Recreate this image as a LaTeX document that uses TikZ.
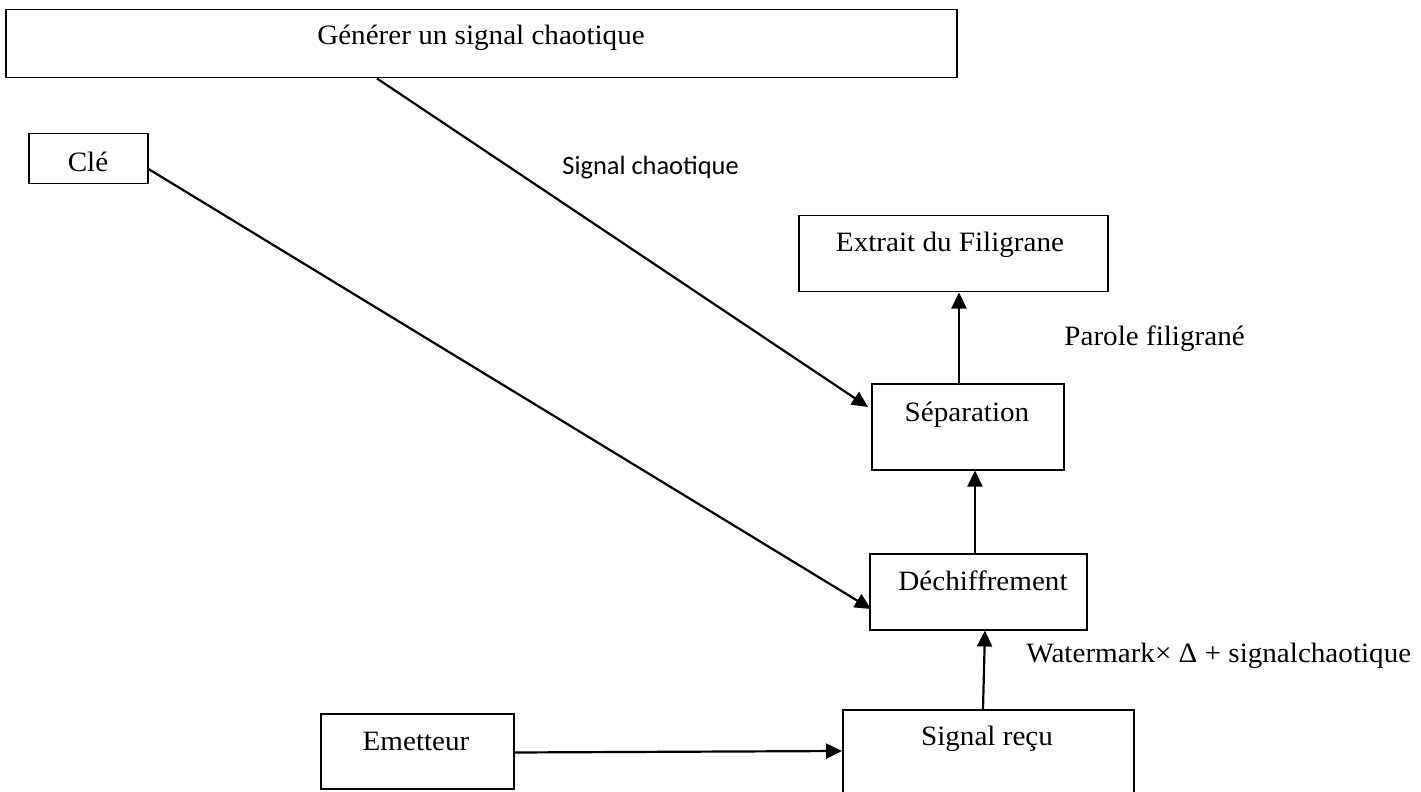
\documentclass[tikz,border=0pt]{standalone}
\usepackage{fontspec}
\usetikzlibrary{arrows.meta,calc}
\newfontfamily\boxfont[FakeStretch=1.04]{Liberation Serif}
\newfontfamily\lblfont{Carlito}
\begin{document}
\begin{tikzpicture}[x=0.5pt,y=-0.5pt,
  blk/.style={draw,line width=0.75pt,inner sep=0pt,anchor=north west},
  blktext/.style={anchor=base,inner sep=0pt,font=\boxfont\fontsize{14pt}{16pt}\selectfont},
  sanslbl/.style={anchor=base west,inner sep=0pt,font=\lblfont\fontsize{13.2pt}{16pt}\selectfont},
  seriflbl/.style={anchor=base west,inner sep=0pt,font=\boxfont\fontsize{14pt}{16pt}\selectfont},
  arr/.style={line width=1.1pt,-{Triangle[length=8pt,width=7.5pt]}}]
\clip (0,0) rectangle (1421,792);
\fill[white] (0,0) rectangle (1421,792);

% blocks
\node[blk,minimum width=475.5pt,minimum height=34pt] (gen) at (5,9) {};
\node[blk,minimum width=59.5pt,minimum height=25pt] (cle) at (28,133) {};
\node[blk,minimum width=154.5pt,minimum height=38pt] (ext) at (798,215) {};
\node[blk,minimum width=96pt,minimum height=43pt] (sep) at (871,383) {};
\node[blk,minimum width=108.5pt,minimum height=38pt] (dech) at (869,553) {};
\node[blk,minimum width=145.5pt,minimum height=50pt] (sig) at (842,709) {};
\node[blk,minimum width=96.5pt,minimum height=37.5pt] (emet) at (320,713) {};

% block captions
\node[blktext] (genT) at (481,45) {Générer un signal chaotique};
\node[blktext] (cleT) at (88,172) {Clé};
\node[blktext] (extT) at (950,252) {Extrait du Filigrane};
\node[blktext] (sepT) at (967,421) {Séparation};
\node[blktext] (dechT) at (983,590) {Déchiffrement};
\node[blktext] (sigT) at (987,745) {Signal reçu};
\node[blktext] (emetT) at (416,750) {Emetteur};

% connector labels
\node[sanslbl] (lblSig) at (562,175) {Signal chaotique};
\node[seriflbl] (lblPar) at (1064,345) {Parole filigrané};
\node[seriflbl] (lblWat) at (1026,662) {Watermark× Δ + signalchaotique};

% connectors
\draw[arr] ($(gen.south west)+(372,0)$) -- ($(sep.north west)+(-3,24)$);
\draw[arr] ($(cle.north east)+(0,36)$) -- ($(dech.north west)+(2,56)$);
\draw[arr] ($(dech.north west)+(106,0)$) -- ($(sep.south west)+(104,0)$);
\draw[arr] ($(sep.north west)+(88,0)$) -- ($(ext.south west)+(161,0)$);
\draw[arr] ($(sig.north west)+(141,0)$) -- ($(dech.south west)+(116,0)$);
\draw[arr] ($(emet.south east)+(0,-37)$) -- ($(sig.north west)+(0,42)$);
\end{tikzpicture}
\end{document}
